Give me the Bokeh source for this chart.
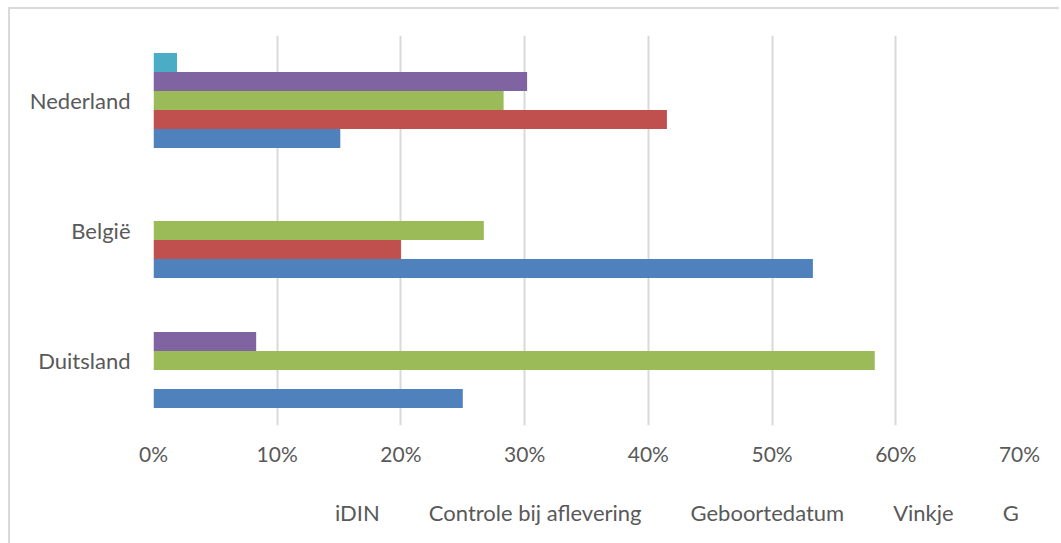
from bokeh.plotting import figure
from bokeh.layouts import column
from bokeh.models import FactorRange, Range1d, Legend, LegendItem, NumeralTickFormatter, FixedTicker, ColumnDataSource
from bokeh.transform import dodge
from bokeh.embed import file_html
from bokeh.resources import INLINE

# ---- data ----
countries = ["Nederland", "België", "Duitsland"]
series = ["iDIN", "Controle bij aflevering", "Geboortedatum", "Vinkje", "Geen"]
idin = [0.019, 0.0, 0.0]
controle = [0.302, 0.0, 0.083]
geboortedatum = [0.283, 0.267, 0.583]
vinkje = [0.415, 0.200, 0.0]
geen = [0.151, 0.533, 0.250]
x_ticks = [0.0, 0.1, 0.2, 0.3, 0.4, 0.5, 0.6, 0.7]

colors = ["#4BACC6", "#8064A2", "#9BBB59", "#C0504D", "#4F81BD"]
offsets = [0.292, 0.146, 0.0, -0.146, -0.292]

src = ColumnDataSource(dict(country=countries, s0=idin, s1=controle, s2=geboortedatum, s3=vinkje, s4=geen))

FONT = "Lato"
TXT = "#595959"

p = figure(y_range=FactorRange(factors=list(reversed(countries))), x_range=Range1d(0, 0.7),
           frame_width=866, frame_height=390, output_backend="svg", toolbar_location=None,
           min_border_left=143, min_border_right=40, min_border_top=26, min_border_bottom=40)
p.outline_line_color = None

for i, name in enumerate(series):
    p.hbar(y=dodge("country", offsets[i], range=p.y_range), right="s%d" % i, left=0,
           height=0.146, source=src, fill_color=colors[i], line_color=None)

p.xaxis.ticker = FixedTicker(ticks=x_ticks)
p.xaxis.formatter = NumeralTickFormatter(format="0%")
p.xaxis.axis_line_color = None
p.xaxis.major_tick_line_color = None
p.xaxis.minor_tick_line_color = None
p.xaxis.major_label_standoff = 9
p.xaxis.major_label_text_font = FONT
p.xaxis.major_label_text_font_size = "21px"
p.xaxis.major_label_text_color = TXT

p.yaxis.axis_line_color = None
p.yaxis.major_tick_line_color = None
p.yaxis.minor_tick_line_color = None
p.yaxis.major_label_standoff = 17
p.yaxis.major_label_text_font = FONT
p.yaxis.major_label_text_font_size = "22px"
p.yaxis.major_label_text_color = TXT

p.xgrid.grid_line_color = "#D9D9D9"
p.xgrid.grid_line_width = 2
p.ygrid.grid_line_color = None

# ---- legend strip below the chart ----
leg = figure(width=1049, height=78, output_backend="svg", toolbar_location=None,
             x_range=Range1d(0, 1), y_range=Range1d(0, 1),
             x_axis_location=None, y_axis_location=None,
             min_border_left=0, min_border_right=0, min_border_top=0, min_border_bottom=0)
leg.outline_line_color = None
leg.xgrid.visible = False
leg.ygrid.visible = False

legend_renderers = []
for i, name in enumerate(series):
    r = leg.hbar(y=[], right=[], left=0, height=0.1, fill_color=colors[i], line_color=None)
    legend_renderers.append(r)

legend = Legend(items=[LegendItem(label=series[i], renderers=[legend_renderers[i]]) for i in range(5)],
                orientation="horizontal", location=(165, 20), padding=0, margin=0,
                border_line_color=None, background_fill_alpha=0,
                glyph_width=12, glyph_height=12, label_standoff=5, spacing=32,
                label_text_font=FONT, label_text_font_size="22px", label_text_color=TXT)
leg.add_layout(legend)

layout = column(p, leg, spacing=0)
layout.styles = {"border-left": "2px solid #D9D9D9", "border-top": "2px solid #D9D9D9",
                 "margin-left": "8px", "margin-top": "7px"}

open("out.html", "w").write(file_html(layout, INLINE))
